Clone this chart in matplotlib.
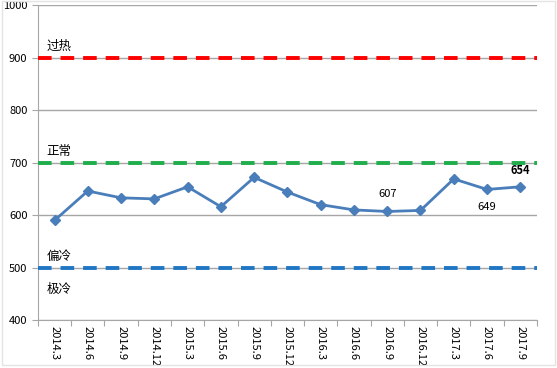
import matplotlib.pyplot as plt
from matplotlib.patches import Rectangle

plt.rcParams['font.family'] = ['Noto Sans CJK SC', 'DejaVu Sans']

# data
periods = ['2014.3', '2014.6', '2014.9', '2014.12', '2015.3', '2015.6', '2015.9',
           '2015.12', '2016.3', '2016.6', '2016.9', '2016.12', '2017.3', '2017.6', '2017.9']
index_vals = [590, 646, 633, 631, 654, 616, 672, 644, 620, 610, 607, 609, 669, 649, 654]
level_vals = [900, 700, 500]
level_colors = ['#ff0000', '#1fae4b', '#1f77c4']

fig = plt.figure(figsize=(5.57, 3.68), dpi=100)
# faint outer frame of the chart area
fig.patches.append(Rectangle((0.004, 0.008), 0.993, 0.99, transform=fig.transFigure,
                             fill=False, ec='#e4e4e4', lw=1))
ax = fig.add_axes([0.068, 0.13, 0.896, 0.856])

x = list(range(len(periods)))
ax.set_xlim(-0.5, len(periods) - 0.5)
ax.set_ylim(400, 1000)

# threshold lines
for v, c in zip(level_vals, level_colors):
    ax.plot([-0.5, len(periods) - 0.5], [v, v], color=c, lw=2.8, ls=(0, (3.5, 2.3)), zorder=3)

ax.plot(x, index_vals, color='#4a7ebb', lw=2, marker='D', ms=5, zorder=4)

ax.text(-0.25, 915, '过热', fontsize=9)
ax.text(-0.25, 715, '正常', fontsize=9)
ax.text(-0.25, 515, '偏冷', fontsize=9)
ax.text(-0.25, 452, '极冷', fontsize=9)

ax.annotate('607', (10, 607), xytext=(0, 9), textcoords='offset points', ha='center', va='bottom', fontsize=8)
ax.annotate('649', (13, 649), xytext=(0, -9), textcoords='offset points', ha='center', va='top', fontsize=8)
ax.annotate('654', (14, 654), xytext=(0, 7), textcoords='offset points', ha='center', va='bottom',
            fontsize=8, fontweight='bold')

ax.set_yticks([400, 500, 600, 700, 800, 900, 1000])
ax.yaxis.grid(True, color='#a6a6a6', lw=1)
ax.set_axisbelow(True)
ax.set_xticks([i - 0.5 for i in range(len(periods) + 1)], minor=False)
ax.set_xticklabels([])
ax.set_xticks(x, minor=True)
ax.set_xticklabels(periods, minor=True, rotation=270, fontsize=8)
ax.tick_params(axis='x', which='minor', length=0, pad=4)
ax.tick_params(axis='x', which='major', length=4, color='#a6a6a6')
ax.tick_params(axis='y', length=4, color='#a6a6a6', labelsize=8)

for s in ['top', 'right']:
    ax.spines[s].set_visible(False)
ax.spines['left'].set_color('#a6a6a6')
ax.spines['bottom'].set_color('#a6a6a6')

fig.savefig('out.png', dpi=100)
